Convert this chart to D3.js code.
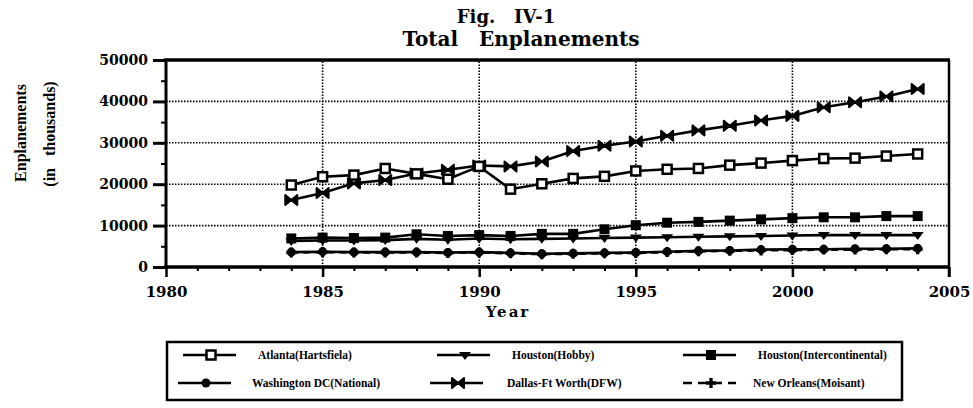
<!DOCTYPE html>
<html>
<head>
<meta charset="utf-8">
<script src="https://cdn.jsdelivr.net/npm/d3@7"></script>
<style>
  body { margin: 0; background: #fff; }
  text { white-space: pre; }
</style>
</head>
<body>
<div id="chart"></div>
<script>
const years = [1984, 1985, 1986, 1987, 1988, 1989, 1990, 1991, 1992, 1993, 1994,
    1995, 1996, 1997, 1998, 1999, 2000, 2001, 2002, 2003, 2004];

const atlanta = [19800, 21800, 22200, 23800, 22500, 21200, 24300, 18800, 20100, 21400, 21900,
    23200, 23600, 23800, 24600, 25100, 25700, 26200, 26300, 26800, 27300];
const hobby = [6300, 6400, 6400, 6500, 6800, 6600, 6900, 6700, 6800, 6900, 7000,
    7100, 7200, 7300, 7400, 7500, 7600, 7700, 7700, 7700, 7700];
const intercontinental = [6900, 7100, 7000, 7100, 7900, 7500, 7700, 7500, 8000, 8000, 9100,
    10100, 10700, 10900, 11200, 11500, 11800, 12000, 12000, 12300, 12300];
const washington = [3600, 3700, 3600, 3600, 3600, 3500, 3600, 3400, 3200, 3300, 3400,
    3500, 3700, 3900, 4000, 4200, 4300, 4300, 4400, 4400, 4500];
const dfw = [16200, 17900, 20200, 21000, 22600, 23500, 24500, 24300, 25500, 28000, 29300,
    30300, 31700, 33000, 34100, 35400, 36500, 38600, 39800, 41200, 43000];
const newOrleans = [3500, 3600, 3500, 3500, 3500, 3400, 3500, 3300, 3100, 3200, 3300,
    3400, 3600, 3800, 3900, 4000, 4100, 4200, 4200, 4300, 4300];

const seriesNames = ["Atlanta(Hartsfiela)", "Houston(Hobby)", "Houston(Intercontinental)",
    "Washington DC(National)", "Dallas-Ft Worth(DFW)", "New Orleans(Moisant)"];

const yTicks = [0, 10000, 20000, 30000, 40000, 50000];
const xTicks = [1980, 1985, 1990, 1995, 2000, 2005];

const width = 973, height = 408;
const serif = "'DejaVu Serif', serif";
const times = "'Liberation Serif', serif";

const svg = d3.select("#chart").append("svg")
    .attr("width", width)
    .attr("height", height);

const x = d3.scaleLinear().domain([1980, 2005]).range([166, 949]);
const y = d3.scaleLinear().domain([0, 50000]).range([267, 60]);

// grid (dotted)
svg.append("g")
    .selectAll("line")
    .data(yTicks.slice(1, -1))
    .join("line")
    .attr("x1", x(1980)).attr("x2", x(2005))
    .attr("y1", d => y(d)).attr("y2", d => y(d))
    .attr("stroke", "#000").attr("stroke-width", 1.6)
    .attr("stroke-dasharray", "1.5,1.5");

svg.append("g")
    .selectAll("line")
    .data(xTicks.slice(1, -1))
    .join("line")
    .attr("x1", d => x(d)).attr("x2", d => x(d))
    .attr("y1", y(0)).attr("y2", y(50000))
    .attr("stroke", "#000").attr("stroke-width", 1.6)
    .attr("stroke-dasharray", "1.5,1.5");

// minor ticks
svg.append("g")
    .attr("transform", `translate(${x(1980)},0)`)
    .call(d3.axisLeft(y).tickValues(d3.range(5000, 50000, 10000)).tickSize(5).tickFormat(""))
    .call(g => g.select(".domain").remove())
    .call(g => g.selectAll("line").attr("stroke-width", 2));

svg.append("g")
    .attr("transform", `translate(0,${y(0)})`)
    .call(d3.axisBottom(x).tickValues(d3.range(1981, 2005)).tickSize(4).tickFormat(""))
    .call(g => g.select(".domain").remove())
    .call(g => g.selectAll("line").attr("stroke-width", 2));

// major axes
svg.append("g")
    .attr("transform", `translate(${x(1980)},0)`)
    .call(d3.axisLeft(y).tickValues(yTicks).tickSize(13).tickPadding(5).tickFormat(d3.format("d")))
    .call(g => g.select(".domain").remove())
    .call(g => g.selectAll("line").attr("stroke-width", 3))
    .call(g => g.selectAll("text")
        .attr("font-family", serif).attr("font-weight", "bold").attr("font-size", 14)
        .attr("fill", "#000"));

svg.append("g")
    .attr("transform", `translate(0,${y(0)})`)
    .call(d3.axisBottom(x).tickValues(xTicks).tickSize(10).tickPadding(9).tickFormat(d3.format("d")))
    .call(g => g.select(".domain").remove())
    .call(g => g.selectAll("line").attr("stroke-width", 2.5))
    .call(g => g.selectAll("text")
        .attr("font-family", serif).attr("font-weight", "bold").attr("font-size", 15)
        .attr("fill", "#000"));

// frame
svg.append("line").attr("x1", x(1980) - 2).attr("x2", x(2005) + 1).attr("y1", y(50000)).attr("y2", y(50000))
    .attr("stroke", "#000").attr("stroke-width", 3.5);
svg.append("line").attr("x1", x(1980) - 2).attr("x2", x(2005) + 1).attr("y1", y(0)).attr("y2", y(0))
    .attr("stroke", "#000").attr("stroke-width", 3.5);
svg.append("line").attr("x1", x(1980)).attr("x2", x(1980)).attr("y1", y(50000)).attr("y2", y(0))
    .attr("stroke", "#000").attr("stroke-width", 3);
svg.append("line").attr("x1", x(2005)).attr("x2", x(2005)).attr("y1", y(50000)).attr("y2", y(0) + 10)
    .attr("stroke", "#000").attr("stroke-width", 2.5);

// titles
svg.append("text").attr("x", 506).attr("y", 23).attr("text-anchor", "middle")
    .attr("font-family", serif).attr("font-weight", "bold").attr("font-size", 18)
    .text("Fig.   IV-1");
svg.append("text").attr("x", 521).attr("y", 46).attr("text-anchor", "middle")
    .attr("font-family", serif).attr("font-weight", "bold").attr("font-size", 20)
    .text("Total   Enplanements");
svg.append("text").attr("x", 508).attr("y", 317).attr("text-anchor", "middle")
    .attr("font-family", serif).attr("font-weight", "bold").attr("font-size", 15)
    .attr("letter-spacing", 2)
    .text("Year");
svg.append("text").attr("transform", "translate(26,133) rotate(-90)").attr("text-anchor", "middle")
    .attr("font-family", times).attr("font-weight", "bold").attr("font-size", 16)
    .text("Enplanements");
svg.append("text").attr("transform", "translate(55,134) rotate(-90)").attr("text-anchor", "middle")
    .attr("font-family", times).attr("font-weight", "bold").attr("font-size", 16)
    .text("(in   thousands)");

// marker shapes
const bowtie = "M-6,-5L6,5L6,-5L-6,5Z";
const triDown = "M-6,-3L6,-3L0,5Z";
const markers = {
    openSquare: g => g.append("rect").attr("x", -4.5).attr("y", -4.5).attr("width", 9).attr("height", 9)
        .attr("fill", "#fff").attr("stroke", "#000").attr("stroke-width", 2.5),
    triangle: g => g.append("path").attr("d", triDown).attr("fill", "#000"),
    filledSquare: g => g.append("rect").attr("x", -5).attr("y", -5).attr("width", 10).attr("height", 10)
        .attr("fill", "#000"),
    circle: g => g.append("circle").attr("r", 4.5).attr("fill", "#000"),
    bowtie: g => g.append("path").attr("d", bowtie).attr("fill", "#000")
        .attr("stroke", "#000").attr("stroke-width", 2).attr("stroke-linejoin", "round"),
    cross: g => g.append("path").attr("d", d3.symbol(d3.symbolCross, 55)()).attr("fill", "#000")
};

const series = [
    { name: seriesNames[0], values: atlanta, marker: "openSquare", dash: null },
    { name: seriesNames[1], values: hobby, marker: "triangle", dash: null },
    { name: seriesNames[2], values: intercontinental, marker: "filledSquare", dash: null },
    { name: seriesNames[3], values: washington, marker: "circle", dash: null },
    { name: seriesNames[4], values: dfw, marker: "bowtie", dash: null },
    { name: seriesNames[5], values: newOrleans, marker: "cross", dash: "7,5" }
];

const line = d3.line().x(d => x(d[0])).y(d => y(d[1]));

// draw bottom series first so upper ones sit on top
const drawOrder = [5, 3, 1, 2, 4, 0];
drawOrder.forEach(i => {
    const s = series[i];
    const pts = years.map((yr, j) => [yr, s.values[j]]);
    svg.append("path").datum(pts)
        .attr("fill", "none").attr("stroke", "#000").attr("stroke-width", 2.6)
        .attr("stroke-dasharray", s.dash)
        .attr("d", line);
    svg.append("g").selectAll("g")
        .data(pts)
        .join("g")
        .attr("transform", d => `translate(${x(d[0])},${y(d[1])})`)
        .each(function () { markers[s.marker](d3.select(this)); });
});

// legend
const legend = svg.append("g");
legend.append("rect").attr("x", 167).attr("y", 342).attr("width", 735).attr("height", 58)
    .attr("fill", "#fff").attr("stroke", "#000").attr("stroke-width", 2.5);

const legendPos = [
    { lx: 183, tx: 258, ly: 355 },
    { lx: 437, tx: 512, ly: 355 },
    { lx: 683, tx: 758, ly: 355 },
    { lx: 178, tx: 252, ly: 383 },
    { lx: 430, tx: 507, ly: 383 },
    { lx: 683, tx: 753, ly: 383 }
];

series.forEach((s, i) => {
    const p = legendPos[i];
    const g = legend.append("g");
    g.append("line").attr("x1", p.lx).attr("x2", p.lx + 53).attr("y1", p.ly).attr("y2", p.ly)
        .attr("stroke", "#000").attr("stroke-width", 2.6)
        .attr("stroke-dasharray", s.dash ? "9,6" : null);
    const m = g.append("g").attr("transform", `translate(${p.lx + 28},${p.ly})`);
    markers[s.marker](m);
    g.append("text").attr("x", p.tx).attr("y", p.ly + 4)
        .attr("font-family", times).attr("font-weight", "bold")
        .attr("font-size", 11.5)
        .text(s.name);
});
</script>
</body>
</html>
